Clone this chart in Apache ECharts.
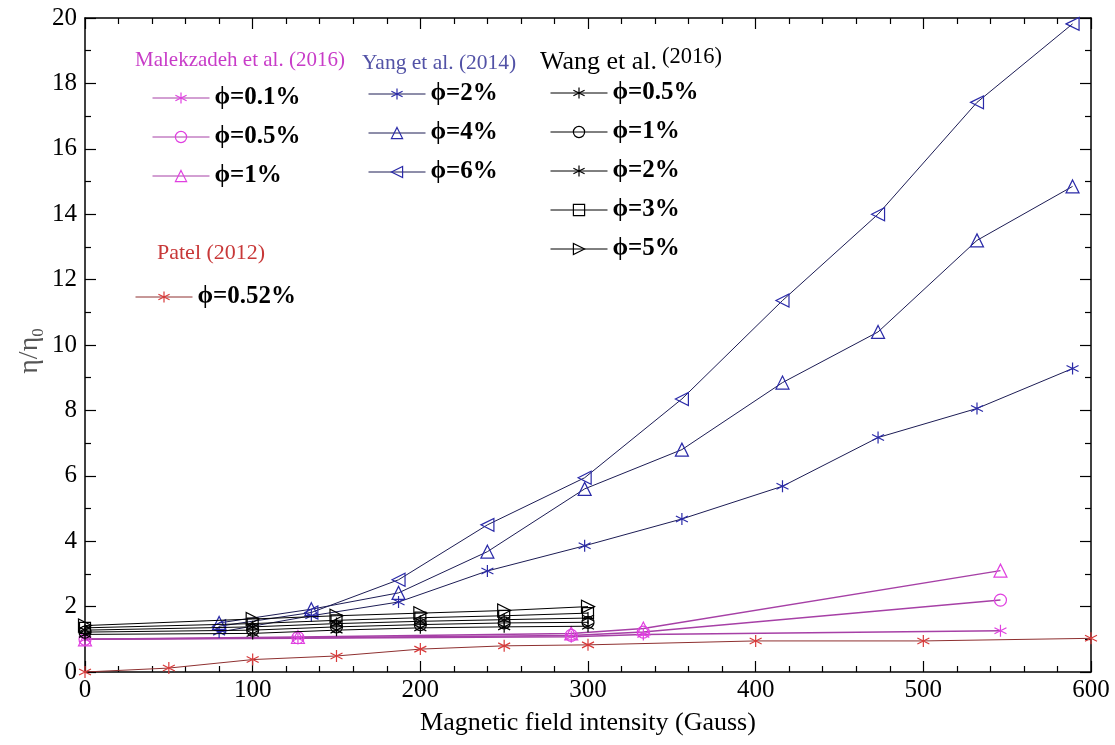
<!DOCTYPE html>
<html>
<head>
<meta charset="utf-8">
<script src="https://cdn.jsdelivr.net/npm/echarts@6/dist/echarts.min.js"></script>
<style>
  html, body { margin: 0; padding: 0; background: #fff; }
  #chart { width: 1115px; height: 745px; }
</style>
</head>
<body>
<div id="chart"></div>
<script>
// Relative viscosity of magnetic nanofluids versus applied field strength

// Malekzadeh et al. (2016)
const malekX = [0, 127, 290, 333, 546];
const malek01 = [1.0, 1.03, 1.08, 1.15, 1.26];
const malek05 = [1.0, 1.05, 1.12, 1.22, 2.2];
const malek1 = [1.0, 1.07, 1.18, 1.33, 3.1];

// Yang et al. (2014)
const yangX = [80, 135, 187, 240, 298, 356, 416, 473, 532, 589];
const yang2 = [1.22, 1.72, 2.14, 3.09, 3.86, 4.68, 5.68, 7.17, 8.06, 9.28];
const yang4 = [1.5, 1.92, 2.42, 3.68, 5.6, 6.8, 8.85, 10.4, 13.2, 14.85];
const yang6 = [1.4, 1.82, 2.82, 4.5, 5.94, 8.35, 11.36, 14.0, 17.42, 19.82];

// Wang et al. (2016)
const wangX = [0, 100, 150, 200, 250, 300];
const wang05 = [1.15, 1.18, 1.28, 1.35, 1.38, 1.4];
const wang1 = [1.22, 1.28, 1.38, 1.45, 1.5, 1.52];
const wang2 = [1.28, 1.38, 1.48, 1.55, 1.6, 1.65];
const wang3 = [1.35, 1.48, 1.58, 1.66, 1.72, 1.8];
const wang5 = [1.42, 1.62, 1.72, 1.8, 1.88, 2.0];

// Patel (2012)
const patelX = [0, 50, 100, 150, 200, 250, 300, 400, 500, 600];
const patel052 = [0.0, 0.12, 0.38, 0.49, 0.70, 0.80, 0.83, 0.95, 0.95, 1.03];

// Axis ticks
const xTicks = { min: 0, max: 600, step: 100, minorSplit: 5 };
const yTicks = { min: 0, max: 20, step: 2, minorSplit: 2 };

const SERIF = '"Liberation Serif", "DejaVu Serif", serif';
const ASTERISK = 'path://M0,-10L0,10M-8.66,-5L8.66,5M-8.66,5L8.66,-5';

const pairs = (xs, ys) => xs.map((x, i) => [x, ys[i]]);

function lineSeries(name, xs, ys, symbol, lineColor, markColor, opts) {
  opts = opts || {};
  return {
    type: 'line',
    name: name,
    data: pairs(xs, ys),
    symbol: symbol,
    symbolSize: opts.size || 12,
    symbolRotate: opts.rotate || 0,
    showAllSymbol: true,
    lineStyle: { color: lineColor, width: opts.width || 1 },
    itemStyle: { color: 'rgba(0,0,0,0)', borderColor: markColor, borderWidth: 1.2 },
    emphasis: { disabled: true },
    z: opts.z || 2,
    animation: false
  };
}

const MAG_LINE = '#a640a6', MAG_MARK = '#e040e0';
const BLUE_LINE = '#1c1c55', BLUE_MARK = '#2a2aa8';
const RED_LINE = '#8e3030', RED_MARK = '#d83a3a';

const series = [
  lineSeries('M|ϕ=0.1%', malekX, malek01, ASTERISK, MAG_LINE, MAG_MARK, { width: 1.5 }),
  lineSeries('M|ϕ=0.5%', malekX, malek05, 'circle', MAG_LINE, MAG_MARK, { width: 1.5 }),
  lineSeries('M|ϕ=1%', malekX, malek1, 'triangle', MAG_LINE, MAG_MARK, { width: 1.5, size: 13 }),

  lineSeries('Y|ϕ=2%', yangX, yang2, ASTERISK, BLUE_LINE, BLUE_MARK, { z: 3 }),
  lineSeries('Y|ϕ=4%', yangX, yang4, 'triangle', BLUE_LINE, BLUE_MARK, { z: 3, size: 13 }),
  lineSeries('Y|ϕ=6%', yangX, yang6, 'triangle', BLUE_LINE, BLUE_MARK, { z: 3, size: 13, rotate: 90 }),

  lineSeries('W|ϕ=0.5%', wangX, wang05, ASTERISK, '#000', '#000', { z: 4 }),
  lineSeries('W|ϕ=1%', wangX, wang1, 'circle', '#000', '#000', { z: 4 }),
  lineSeries('W|ϕ=2%', wangX, wang2, ASTERISK, '#000', '#000', { z: 4 }),
  lineSeries('W|ϕ=3%', wangX, wang3, 'rect', '#000', '#000', { z: 4, size: 11 }),
  lineSeries('W|ϕ=5%', wangX, wang5, 'triangle', '#000', '#000', { z: 4, size: 13, rotate: -90 }),

  lineSeries('P|ϕ=0.52%', patelX, patel052, ASTERISK, RED_LINE, RED_MARK, { z: 3 })
];

function legendBlock(prefix, left, top) {
  return {
    orient: 'vertical',
    left: left,
    top: top,
    padding: 0,
    itemWidth: 57,
    itemHeight: 14,
    itemGap: 13,
    selectedMode: false,
    data: series.filter(s => s.name.startsWith(prefix + '|')).map(s => s.name),
    formatter: name => name.split('|')[1],
    textStyle: { fontFamily: SERIF, fontSize: 25, fontWeight: 'bold', color: '#000', lineHeight: 26 },
    itemStyle: { borderWidth: 1.2 },
    lineStyle: { width: 1 }
  };
}

function axisCommon(extra) {
  return Object.assign({
    type: 'value',
    axisLine: { show: true, onZero: false, lineStyle: { color: '#000', width: 1.5 } },
    axisTick: { show: true, inside: true, length: 11, lineStyle: { color: '#000', width: 1.2 } },
    minorTick: { show: true, length: 6, lineStyle: { color: '#000', width: 1.2 } },
    splitLine: { show: false },
    minorSplitLine: { show: false }
  }, extra);
}

const xBase = { min: xTicks.min, max: xTicks.max, interval: xTicks.step };
const yBase = { min: yTicks.min, max: yTicks.max, interval: yTicks.step };

const option = {
  backgroundColor: '#fff',
  animation: false,
  grid: { left: 85, right: 24, top: 18, bottom: 73, containLabel: false },
  xAxis: [
    axisCommon(Object.assign({}, xBase, {
      position: 'bottom',
      minorTick: { show: true, splitNumber: xTicks.minorSplit, length: 6, lineStyle: { color: '#000', width: 1.2 } },
      axisLabel: { fontFamily: SERIF, fontSize: 25, color: '#000', margin: 6 },
      name: 'Magnetic field intensity (Gauss)',
      nameLocation: 'middle',
      nameGap: 38,
      nameTextStyle: { fontFamily: SERIF, fontSize: 26, color: '#000' }
    })),
    axisCommon(Object.assign({}, xBase, {
      position: 'top',
      minorTick: { show: true, splitNumber: xTicks.minorSplit, length: 6, lineStyle: { color: '#000', width: 1.2 } },
      axisLabel: { show: false }
    }))
  ],
  yAxis: [
    axisCommon(Object.assign({}, yBase, {
      position: 'left',
      minorTick: { show: true, splitNumber: yTicks.minorSplit, length: 6, lineStyle: { color: '#000', width: 1.2 } },
      axisLabel: { fontFamily: SERIF, fontSize: 25, color: '#000', margin: 8 }
    })),
    axisCommon(Object.assign({}, yBase, {
      position: 'right',
      minorTick: { show: true, splitNumber: yTicks.minorSplit, length: 6, lineStyle: { color: '#000', width: 1.2 } },
      axisLabel: { show: false }
    }))
  ],
  legend: [
    legendBlock('M', 152, 85),
    legendBlock('Y', 368, 81),
    legendBlock('W', 550, 80),
    legendBlock('P', 135, 284)
  ],
  graphic: [
    { type: 'text', left: 135, top: 50, silent: true,
      style: { text: 'Malekzadeh et al. (2016)', font: '21px ' + SERIF, fill: '#c83cc8' } },
    { type: 'text', left: 362, top: 52, silent: true,
      style: { text: 'Yang et al. (2014)', font: '21.5px ' + SERIF, fill: '#5252a6' } },
    { type: 'text', left: 540, top: 49, silent: true,
      style: { text: 'Wang et al.', font: '26px ' + SERIF, fill: '#000' } },
    { type: 'text', left: 662, top: 46, silent: true,
      style: { text: '(2016)', font: '22.5px ' + SERIF, fill: '#000' } },
    { type: 'text', left: 157, top: 242, silent: true,
      style: { text: 'Patel (2012)', font: '22px ' + SERIF, fill: '#c83838' } },
    { type: 'text', x: 30, y: 351, rotation: Math.PI / 2, silent: true,
      style: {
        text: '{a|η/η}{b|0}',
        align: 'center',
        verticalAlign: 'middle',
        rich: {
          a: { fontFamily: SERIF, fontSize: 28, fill: '#555', lineHeight: 34, verticalAlign: 'middle' },
          b: { fontFamily: SERIF, fontSize: 17, fill: '#555', lineHeight: 17, verticalAlign: 'bottom' }
        }
      } }
  ],
  series: series
};

const chart = echarts.init(document.getElementById('chart'), null, { renderer: 'canvas' });
chart.setOption(option);
</script>
</body>
</html>
